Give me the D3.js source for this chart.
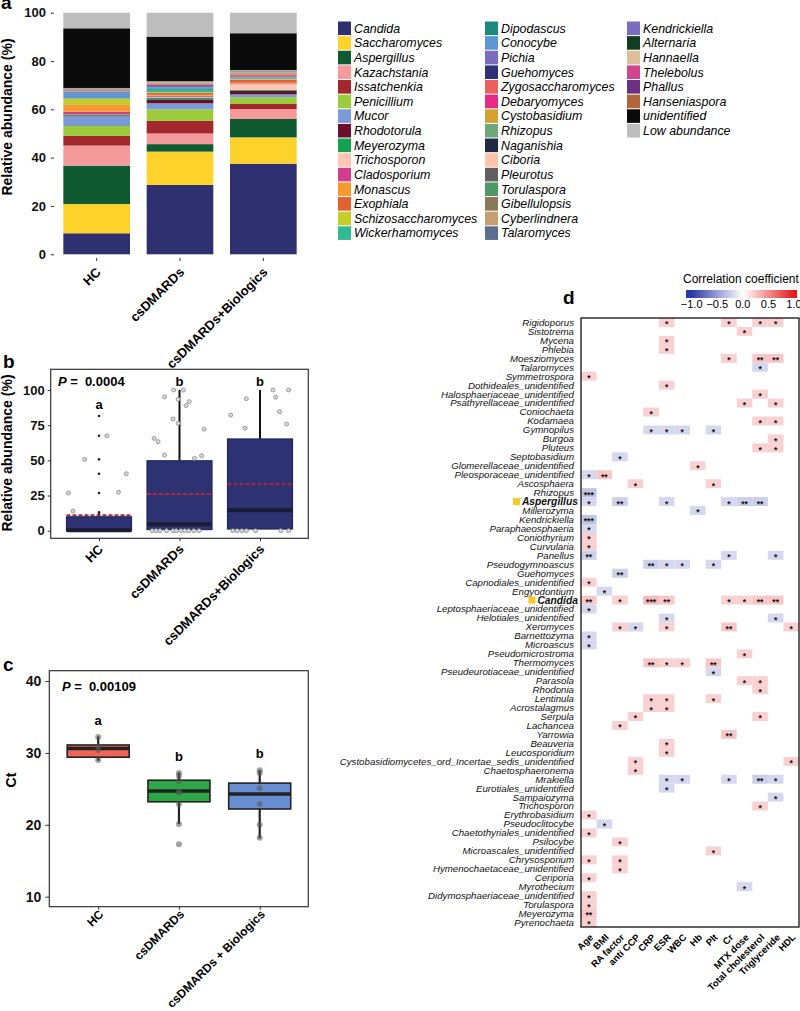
<!DOCTYPE html>
<html><head><meta charset="utf-8">
<script src="https://cdn.jsdelivr.net/npm/d3@7"></script>
<style>
body{margin:0;background:#fff}
svg text{font-family:"Liberation Sans",Arial,sans-serif}
</style></head><body>
<svg id="chart" width="800" height="1011"></svg>
<script>
// ---------- data ----------
const groupsA = ["HC", "csDMARDs", "csDMARDs+Biologics"];
const groupsC = ["HC", "csDMARDs", "csDMARDs + Biologics"];

const genera = ["Candida","Saccharomyces","Aspergillus","Kazachstania","Issatchenkia","Penicillium","Mucor","Rhodotorula","Meyerozyma","Trichosporon","Cladosporium","Monascus","Exophiala","Schizosaccharomyces","Wickerhamomyces",
  "Dipodascus","Conocybe","Pichia","Guehomyces","Zygosaccharomyces","Debaryomyces","Cystobasidium","Rhizopus","Naganishia","Ciboria","Pleurotus","Torulaspora","Gibellulopsis","Cyberlindnera","Talaromyces",
  "Kendrickiella","Alternaria","Hannaella","Thelebolus","Phallus","Hanseniaspora","unidentified","Low abundance"];
const generaColors = ["#2e3070","#fdd22a","#0f5a30","#f49a9a","#a3282e","#9ccc3c","#7b9bd6","#6b0f2c","#14a050","#fbc6b4","#d23c8c","#f59a2e","#e0622e","#c6cc28","#33b894",
  "#1a8a80","#5f97d4","#7a6bbd","#30307a","#ec5f5f","#e82a86","#d4a02e","#6ea87a","#1e2a44","#fcc4a8","#606060","#4f9a64","#8a7a5a","#c4a070","#5a6f8f",
  "#7d6bbf","#123d22","#dcc09a","#d2448c","#6b3080","#b0653a","#0a0a0a","#bdbdbd"];
const abundHC  = [8.7,12.1,15.9,8.3,4.0,4.1,4.1,0.3,0.4,0.1,1.0,2.8,0.2,2.4,0.1, 0.1,2.2,0.3,0.1,0.1,0.1,0.1,0.1,0.1,0.1,0.3,0.1,0.1,0.1,0.1, 0.1,0.05,0.05,0.05,0.05,0.05,24.7,6.45];
const abundCs  = [28.7,13.8,3.1,4.4,5.2,4.8,2.5,1.6,0.8,0.3,0.5,0.3,0.8,0.3,1.0, 0.6,0.5,0.5,0.3,0.4,0.2,0.2,0.1,0.1,0.2,0.1,0.1,0.1,0.05,0.05, 0.05,0.05,0,0,0,0,18.4,9.9];
const abundBio = [37.5,10.9,7.6,4.1,2.1,2.8,1.2,1.5,0.4,2.3,0.3,0.3,1.3,0.2,0.2, 0.2,0.3,0.3,0.2,0.6,0.2,0.2,0.2,0.1,0.3,0.3,0.1,0.2,0.1,0.1, 0.05,0.05,0.05,0,0,0.05,15.2,8.5];

// panel b: relative abundance of Candida
const bQ1 = [0, 0.8, 1.2];
const bMed = [0.4, 4.5, 14.5];
const bQ3 = [9.9, 49.7, 65.2];
const bMean = [11.1, 26.1, 33.0];
const bHi = [13, 100, 100];
const bOutHC = [13, 26.8, 40.5, 50.7, 67.5, 81.5];
// [group, value, jitter (fraction of box width)]
const bPoints = [
  [0,26.8,-0.47],[0,14,-0.4],[0,50.7,-0.22],[0,67.5,0.12],[0,27.3,0.3],[0,40.5,0.42],
  [1,65.6,-0.39],[1,63.3,-0.33],[1,53.8,-0.23],[1,95.2,-0.23],[1,79.4,-0.1],[1,100,-0.09],[1,93.4,-0.02],[1,76.3,-0.02],[1,100,0.06],[1,88.9,0.1],[1,91.7,0.15],[1,51.4,0.23],[1,53.3,0.34],[1,72.1,0.38],
  [1,0,-0.42],[1,0,-0.36],[1,0,-0.3],[1,0,-0.2],[1,0,-0.1],[1,0,-0.05],[1,0,0.02],[1,0,0.08],[1,0,0.14],[1,0,0.22],[1,0,0.3],
  [2,82.2,-0.45],[2,72.8,-0.23],[2,93.8,-0.21],[2,100,0.2],[2,94.8,0.24],[2,84.6,0.3],[2,75.8,0.41],[2,100,0.44],
  [2,0,-0.42],[2,0,-0.35],[2,0,-0.28],[2,0,-0.21],[2,0,-0.07],[2,0,0.32],[2,0,0.44]
];

// panel c: Ct values
const cQ1 = [29.4, 23.2, 22.2];
const cMed = [30.6, 24.7, 24.3];
const cQ3 = [31.1, 26.2, 25.8];
const cLo = [28.9, 20.1, 18.1];
const cHi = [32.3, 27.3, 27.6];
const cFill = ["#f0645a", "#2ea846", "#6a8ed2"];
const cPoints = [[0,32.2],[0,30.9],[0,29.0],[0,30.4],
  [1,27.2],[1,26.8],[1,26.1],[1,24.6],[1,24.5],[1,22.9],[1,20.1],[1,17.3],
  [2,27.6],[2,27.2],[2,25.1],[2,22.9],[2,20.0],[2,18.2]];

// panel d: correlation heatmap
const rowNames = ["Rigidoporus","Sistotrema","Mycena","Phlebia","Moesziomyces","Talaromyces","Symmetrospora","Dothideales_unidentified","Halosphaeriaceae_unidentified","Psathyrellaceae_unidentified","Coniochaeta","Kodamaea","Gymnopilus","Burgoa","Pluteus","Septobasidium","Glomerellaceae_unidentified","Pleosporaceae_unidentified","Ascosphaera","Rhizopus","Aspergillus","Millerozyma","Kendrickiella","Paraphaeosphaeria","Coniothyrium","Curvularia","Panellus","Pseudogymnoascus","Guehomyces","Capnodiales_unidentified","Engyodontium","Candida","Leptosphaeriaceae_unidentified","Helotiales_unidentified","Xeromyces","Barnettozyma","Microascus","Pseudomicrostroma","Thermomyces","Pseudeurotiaceae_unidentified","Parasola","Rhodonia","Lentinula","Acrostalagmus","Serpula","Lachancea","Yarrowia","Beauveria","Leucosporidium","Cystobasidiomycetes_ord_Incertae_sedis_unidentified","Chaetosphaeronema","Mrakiella","Eurotiales_unidentified","Sampaiozyma","Trichosporon","Erythrobasidium","Pseudoclitocybe","Chaetothyriales_unidentified","Psilocybe","Microascales_unidentified","Chrysosporium","Hymenochaetaceae_unidentified","Ceriporia","Myrothecium","Didymosphaeriaceae_unidentified","Torulaspora","Meyerozyma","Pyrenochaeta"];
const colNames = ["Age","BMI","RA factor","anti CCP","CRP","ESR","WBC","Hb","Plt","Cr","MTX dose","Total cholesterol","Triglyceride","HDL"];
const highlighted = ["Aspergillus", "Candida"];
const cells = [
  ["Rigidoporus","ESR",0.2,"*"],["Rigidoporus","Cr",0.2,"*"],["Rigidoporus","Total cholesterol",0.2,"*"],["Rigidoporus","Triglyceride",0.2,"*"],
  ["Sistotrema","MTX dose",0.2,"*"],["Mycena","ESR",0.2,"*"],["Phlebia","ESR",0.2,"*"],
  ["Moesziomyces","Cr",0.2,"*"],["Moesziomyces","Total cholesterol",0.24,"**"],["Moesziomyces","Triglyceride",0.24,"**"],
  ["Talaromyces","Total cholesterol",-0.2,"*"],["Symmetrospora","Age",0.2,"*"],["Dothideales_unidentified","ESR",0.2,"*"],
  ["Halosphaeriaceae_unidentified","Total cholesterol",0.2,"*"],
  ["Psathyrellaceae_unidentified","MTX dose",0.2,"*"],["Psathyrellaceae_unidentified","Triglyceride",0.2,"*"],
  ["Coniochaeta","CRP",0.2,"*"],["Kodamaea","Total cholesterol",0.2,"*"],["Kodamaea","Triglyceride",0.2,"*"],
  ["Gymnopilus","CRP",-0.2,"*"],["Gymnopilus","ESR",-0.2,"*"],["Gymnopilus","WBC",-0.2,"*"],["Gymnopilus","Plt",-0.2,"*"],
  ["Burgoa","Triglyceride",0.2,"*"],["Pluteus","Total cholesterol",0.2,"*"],["Pluteus","Triglyceride",0.2,"*"],
  ["Septobasidium","RA factor",-0.2,"*"],["Glomerellaceae_unidentified","Hb",0.2,"*"],
  ["Pleosporaceae_unidentified","Age",-0.2,"*"],["Pleosporaceae_unidentified","BMI",0.24,"**"],
  ["Ascosphaera","anti CCP",0.2,"*"],["Ascosphaera","Plt",0.2,"*"],["Rhizopus","Age",-0.3,"***"],
  ["Aspergillus","Age",-0.2,"*"],["Aspergillus","RA factor",-0.24,"**"],["Aspergillus","ESR",-0.2,"*"],["Aspergillus","Cr",-0.2,"*"],["Aspergillus","MTX dose",-0.24,"**"],["Aspergillus","Total cholesterol",-0.24,"**"],
  ["Millerozyma","Hb",-0.2,"*"],["Kendrickiella","Age",-0.3,"***"],["Paraphaeosphaeria","Age",-0.2,"*"],
  ["Coniothyrium","Age",0.2,"*"],["Curvularia","Age",0.2,"*"],
  ["Panellus","Age",-0.24,"**"],["Panellus","Cr",-0.2,"*"],["Panellus","Triglyceride",-0.2,"*"],
  ["Pseudogymnoascus","CRP",-0.24,"**"],["Pseudogymnoascus","ESR",-0.2,"*"],["Pseudogymnoascus","WBC",-0.2,"*"],["Pseudogymnoascus","Plt",-0.2,"*"],
  ["Guehomyces","RA factor",-0.24,"**"],["Capnodiales_unidentified","Age",0.2,"*"],["Engyodontium","BMI",-0.2,"*"],
  ["Candida","Age",0.24,"**"],["Candida","RA factor",0.2,"*"],["Candida","CRP",0.3,"***"],["Candida","ESR",0.24,"**"],["Candida","Cr",0.2,"*"],["Candida","MTX dose",0.2,"*"],["Candida","Total cholesterol",0.24,"**"],["Candida","Triglyceride",0.24,"**"],
  ["Leptosphaeriaceae_unidentified","Age",-0.2,"*"],
  ["Helotiales_unidentified","ESR",-0.2,"*"],["Helotiales_unidentified","Triglyceride",-0.2,"*"],
  ["Xeromyces","RA factor",0.2,"*"],["Xeromyces","anti CCP",-0.2,"*"],["Xeromyces","ESR",0.2,"*"],["Xeromyces","Cr",0.24,"**"],["Xeromyces","HDL",0.2,"*"],
  ["Barnettozyma","Age",-0.2,"*"],["Microascus","Age",-0.2,"*"],["Pseudomicrostroma","MTX dose",0.2,"*"],
  ["Thermomyces","CRP",0.24,"**"],["Thermomyces","ESR",0.2,"*"],["Thermomyces","WBC",0.2,"*"],["Thermomyces","Plt",0.24,"**"],
  ["Pseudeurotiaceae_unidentified","Plt",-0.2,"*"],
  ["Parasola","MTX dose",0.2,"*"],["Parasola","Total cholesterol",0.2,"*"],["Rhodonia","Total cholesterol",0.2,"*"],
  ["Lentinula","CRP",0.2,"*"],["Lentinula","ESR",0.2,"*"],["Lentinula","Plt",0.2,"*"],
  ["Acrostalagmus","CRP",0.2,"*"],["Acrostalagmus","ESR",0.2,"*"],
  ["Serpula","anti CCP",0.2,"*"],["Serpula","Total cholesterol",0.2,"*"],
  ["Lachancea","RA factor",0.2,"*"],["Yarrowia","Cr",0.24,"**"],["Beauveria","ESR",0.2,"*"],["Leucosporidium","ESR",0.2,"*"],
  ["Cystobasidiomycetes_ord_Incertae_sedis_unidentified","anti CCP",0.2,"*"],["Cystobasidiomycetes_ord_Incertae_sedis_unidentified","HDL",0.2,"*"],
  ["Chaetosphaeronema","anti CCP",0.2,"*"],
  ["Mrakiella","ESR",-0.2,"*"],["Mrakiella","WBC",-0.2,"*"],["Mrakiella","Cr",-0.2,"*"],["Mrakiella","Total cholesterol",-0.24,"**"],["Mrakiella","Triglyceride",-0.2,"*"],
  ["Eurotiales_unidentified","ESR",-0.2,"*"],["Sampaiozyma","Triglyceride",-0.2,"*"],["Trichosporon","Total cholesterol",0.2,"*"],
  ["Erythrobasidium","Age",0.2,"*"],["Pseudoclitocybe","BMI",-0.2,"*"],["Chaetothyriales_unidentified","Age",0.2,"*"],
  ["Psilocybe","RA factor",0.2,"*"],["Microascales_unidentified","Plt",0.2,"*"],
  ["Chrysosporium","Age",0.2,"*"],["Chrysosporium","RA factor",0.2,"*"],["Hymenochaetaceae_unidentified","RA factor",0.2,"*"],
  ["Ceriporia","Age",0.2,"*"],["Myrothecium","MTX dose",-0.2,"*"],["Didymosphaeriaceae_unidentified","Age",0.2,"*"],
  ["Torulaspora","Age",0.2,"*"],["Meyerozyma","Age",0.24,"**"],["Pyrenochaeta","Age",0.2,"*"]
];
const corrTicks = [-1, -0.5, 0, 0.5, 1];

// ---------- drawing ----------
const svg = d3.select("#chart");
const FONT = "'Liberation Sans', Arial, sans-serif";

function styleAxis(sel, size) {
  sel.select(".domain").remove();
  sel.selectAll(".tick line").attr("stroke", "#333");
  sel.selectAll("text").attr("font-size", size).attr("font-weight", "bold")
    .attr("fill", "#111").attr("font-family", FONT);
}

function panelLabel(txt, x, y) {
  svg.append("text").attr("x", x).attr("y", y).attr("font-size", 19)
    .attr("font-weight", "bold").text(txt);
}

function yTitle(txt, x, y) {
  svg.append("text").attr("transform", `translate(${x},${y}) rotate(-90)`)
    .attr("text-anchor", "middle").attr("font-size", 14).attr("font-weight", "bold").text(txt);
}

function xLabels(names, xs, y, size, dx) {
  svg.append("g").selectAll("text").data(names).join("text")
    .attr("transform", (d, i) => `translate(${xs(i) + dx},${y}) rotate(-45)`)
    .attr("text-anchor", "end").attr("font-size", size).attr("font-weight", "bold").text(d => d);
}

function pLabel(txt, x, y) {
  const t = svg.append("text").attr("x", x).attr("y", y).attr("font-size", 13).attr("font-weight", "bold");
  t.append("tspan").attr("font-style", "italic").text("P");
  t.append("tspan").text(" =");
  t.append("tspan").attr("dx", 7).text(txt);
}

// ---- panel a: stacked bars
const ya = d3.scaleLinear().domain([0, 100]).range([254.3, 12.7]);
const xa = d3.scaleBand().domain(groupsA).range([55, 305]).paddingInner(0.2).paddingOuter(0.1);
const abund = [abundHC, abundCs, abundBio];
const table = groupsA.map((g, gi) => {
  const o = { group: g };
  genera.forEach((n, i) => o[n] = abund[gi][i]);
  return o;
});
const color = d3.scaleOrdinal().domain(genera).range(generaColors);
const stacked = d3.stack().keys(genera)(table);

svg.append("g").selectAll("g").data(stacked).join("g")
  .attr("fill", d => color(d.key))
  .selectAll("rect").data(d => d).join("rect")
  .attr("x", d => xa(d.data.group))
  .attr("width", xa.bandwidth())
  .attr("y", d => ya(d[1]))
  .attr("height", d => Math.max(0, ya(d[0]) - ya(d[1])));

styleAxis(svg.append("g").attr("transform", "translate(54,0)")
  .call(d3.axisLeft(ya).tickValues([0, 20, 40, 60, 80, 100]).tickSize(3).tickPadding(5)), 13);
const axA = svg.append("g").attr("transform", "translate(0,258)")
  .call(d3.axisBottom(xa).tickSize(3).tickFormat(""));
axA.select(".domain").remove();
axA.selectAll(".tick line").attr("stroke", "#333");
xLabels(groupsA, i => xa(groupsA[i]) + xa.bandwidth() / 2, 273, 13, 5);
yTitle("Relative abundance (%)", 12, 117);
panelLabel("a", 1, 9);

// legend
const legRows = 15, legX = [338, 485, 627], legY0 = 28.3, legDy = 14.63;
const leg = svg.append("g").selectAll("g").data(genera).join("g")
  .attr("transform", (d, i) => `translate(${legX[Math.floor(i / legRows)]},${legY0 + (i % legRows) * legDy})`);
leg.append("rect").attr("x", 0).attr("y", -6.8).attr("width", 13).attr("height", 13.6).attr("fill", d => color(d));
leg.append("text").attr("x", 16).attr("dy", "0.35em").attr("font-size", 12.4)
  .attr("font-style", "italic").text(d => d);

// ---- panel b: boxplot of Candida abundance
const yb = d3.scaleLinear().domain([0, 100]).range([530.7, 390]);
const xb = d3.scalePoint().domain(groupsA).range([99, 260]);
const bw = 65;
svg.append("rect").attr("x", 50.7).attr("y", 369.3).attr("width", 257.6).attr("height", 169)
  .attr("fill", "none").attr("stroke", "#333").attr("stroke-width", 1.2);
styleAxis(svg.append("g").attr("transform", "translate(50.7,0)")
  .call(d3.axisLeft(yb).tickValues([0, 25, 50, 75, 100]).tickSize(3).tickPadding(3)), 13);
const axB = svg.append("g").attr("transform", "translate(0,538.3)")
  .call(d3.axisBottom(xb).tickSize(3).tickFormat(""));
axB.select(".domain").remove();
axB.selectAll(".tick line").attr("stroke", "#333");

const gb = svg.append("g");
groupsA.forEach((g, i) => {
  const cx = xb(g);
  gb.append("line").attr("x1", cx).attr("x2", cx).attr("y1", yb(bQ3[i])).attr("y2", yb(bHi[i]))
    .attr("stroke", "#111").attr("stroke-width", 2);
  gb.append("rect").attr("x", cx - bw / 2).attr("width", bw)
    .attr("y", yb(bQ3[i])).attr("height", yb(bQ1[i]) - yb(bQ3[i]))
    .attr("fill", "#2d3273").attr("stroke", "#23285e").attr("stroke-width", 1.2);
  gb.append("line").attr("x1", cx - bw / 2).attr("x2", cx + bw / 2).attr("y1", yb(bMed[i])).attr("y2", yb(bMed[i]))
    .attr("stroke", "#1b1b33").attr("stroke-width", 4);
  gb.append("line").attr("x1", cx - bw / 2).attr("x2", cx + bw / 2).attr("y1", yb(bMean[i])).attr("y2", yb(bMean[i]))
    .attr("stroke", "#b0263a").attr("stroke-width", 1.8).attr("stroke-dasharray", "4,2");
});
gb.selectAll("circle.out").data(bOutHC).join("circle").attr("class", "out")
  .attr("cx", xb("HC")).attr("cy", d => yb(d)).attr("r", 1.3).attr("fill", "#222");
gb.selectAll("circle.pt").data(bPoints).join("circle").attr("class", "pt")
  .attr("cx", d => xb(groupsA[d[0]]) + d[2] * bw).attr("cy", d => yb(d[1])).attr("r", 2)
  .attr("fill", "#d8d8d8").attr("stroke", "#8a8a8a").attr("stroke-width", 0.8);
xLabels(groupsA, i => xb(groupsA[i]), 550, 13, 5);
yTitle("Relative abundance (%)", 12, 453);
panelLabel("b", 3, 368);
pLabel("0.0004", 58, 386);
svg.append("g").selectAll("text").data(["a", "b", "b"]).join("text")
  .attr("x", (d, i) => xb(groupsA[i])).attr("y", (d, i) => i === 0 ? 409 : 386)
  .attr("text-anchor", "middle").attr("font-size", 13).attr("font-weight", "bold").text(d => d);

// ---- panel c: Ct boxplot
const yc = d3.scaleLinear().domain([10, 40]).range([896.7, 681]);
const xc = d3.scalePoint().domain(groupsC).range([98.2, 259.7]);
const cw = 62;
svg.append("rect").attr("x", 49.3).attr("y", 670.7).attr("width", 259).attr("height", 236)
  .attr("fill", "none").attr("stroke", "#333").attr("stroke-width", 1.2);
styleAxis(svg.append("g").attr("transform", "translate(49.3,0)")
  .call(d3.axisLeft(yc).tickValues([10, 20, 30, 40]).tickSize(4).tickPadding(4)), 14);
const axC = svg.append("g").attr("transform", "translate(0,906.7)")
  .call(d3.axisBottom(xc).tickSize(3).tickFormat(""));
axC.select(".domain").remove();
axC.selectAll(".tick line").attr("stroke", "#333");

const gc = svg.append("g");
groupsC.forEach((g, i) => {
  const cx = xc(g);
  gc.append("line").attr("x1", cx).attr("x2", cx).attr("y1", yc(cLo[i])).attr("y2", yc(cHi[i]))
    .attr("stroke", "#222").attr("stroke-width", 2.2);
  gc.append("rect").attr("x", cx - cw / 2).attr("width", cw)
    .attr("y", yc(cQ3[i])).attr("height", yc(cQ1[i]) - yc(cQ3[i]))
    .attr("fill", cFill[i]).attr("stroke", "#222").attr("stroke-width", 1.6);
  gc.append("line").attr("x1", cx - cw / 2).attr("x2", cx + cw / 2).attr("y1", yc(cMed[i])).attr("y2", yc(cMed[i]))
    .attr("stroke", "#222").attr("stroke-width", 3.5);
});
gc.selectAll("circle").data(cPoints).join("circle")
  .attr("cx", d => xc(groupsC[d[0]])).attr("cy", d => yc(d[1])).attr("r", 3)
  .attr("fill", "#555").attr("fill-opacity", 0.55);
xLabels(groupsC, i => xc(groupsC[i]), 915, 12, 6);
yTitle("Ct", 16, 780);
panelLabel("c", 3, 671);
pLabel("0.00109", 62, 691);
svg.append("g").selectAll("text").data(["a", "b", "b"]).join("text")
  .attr("x", (d, i) => xc(groupsC[i])).attr("y", (d, i) => [725, 761, 758][i])
  .attr("text-anchor", "middle").attr("font-size", 13).attr("font-weight", "bold").text(d => d);

// ---- panel d: correlation heatmap
const xd = d3.scaleBand().domain(colNames).range([581, 799]);
const yd = d3.scaleBand().domain(rowNames).range([318, 927]);
const corrColor = d3.scaleLinear().domain([-1, 0, 1]).range(["#2c3aa8", "#ffffff", "#e31a1c"]);

const gd = svg.append("g");
gd.selectAll("rect.cell").data(cells).join("rect").attr("class", "cell")
  .attr("x", d => xd(d[1])).attr("y", d => yd(d[0]))
  .attr("width", xd.bandwidth()).attr("height", yd.bandwidth())
  .attr("fill", d => corrColor(d[2]));
gd.selectAll("text.sig").data(cells).join("text").attr("class", "sig")
  .attr("x", d => xd(d[1]) + xd.bandwidth() / 2).attr("y", d => yd(d[0]) + yd.bandwidth() / 2)
  .attr("dy", "0.58em").attr("text-anchor", "middle").attr("font-size", 8.5).attr("font-weight", "bold")
  .attr("fill", "#111").text(d => d[3]);
gd.append("rect").attr("x", 581).attr("y", 318).attr("width", 218).attr("height", 609)
  .attr("fill", "none").attr("stroke", "#111").attr("stroke-width", 1.3);

// row labels
const rowLab = gd.append("g").selectAll("text").data(rowNames).join("text")
  .attr("x", d => highlighted.includes(d) ? 578 : 574)
  .attr("y", d => yd(d) + yd.bandwidth() / 2).attr("dy", "0.35em")
  .attr("text-anchor", "end").attr("font-size", d => highlighted.includes(d) ? 10.3 : 9.7)
  .attr("font-style", "italic").attr("font-weight", d => highlighted.includes(d) ? "bold" : "normal")
  .attr("fill", "#111").text(d => d);
rowLab.filter(d => highlighted.includes(d)).each(function (d) {
  const w = this.getComputedTextLength();
  gd.append("rect").attr("x", 578 - w - 9).attr("y", yd(d) + yd.bandwidth() / 2 - 3.5)
    .attr("width", 7).attr("height", 7).attr("fill", "#f7c629");
});

// column labels
gd.append("g").selectAll("text").data(colNames).join("text")
  .attr("transform", d => `translate(${xd(d) + xd.bandwidth() / 2 + 5},${938}) rotate(-45)`)
  .attr("text-anchor", "end").attr("font-size", 9.5).attr("font-weight", "bold").text(d => d);

panelLabel("d", 563, 304);

// colour bar
const cb = d3.scaleLinear().domain([-1, 1]).range([691.7, 794]);
const defs = svg.append("defs");
const grad = defs.append("linearGradient").attr("id", "corrGrad")
  .attr("gradientUnits", "userSpaceOnUse").attr("x1", cb(-1)).attr("x2", cb(1)).attr("y1", 0).attr("y2", 0);
d3.range(-1, 1.001, 0.25).forEach(v => {
  grad.append("stop").attr("offset", (v + 1) / 2).attr("stop-color", corrColor(v));
});
svg.append("rect").attr("x", 686).attr("y", 290).attr("width", 111).attr("height", 8).attr("fill", "url(#corrGrad)");
svg.append("g").selectAll("text").data(corrTicks).join("text")
  .attr("x", d => cb(d)).attr("y", 308).attr("text-anchor", "middle").attr("font-size", 11)
  .text(d => d3.format(".1f")(d).replace("-", "\u2212"));
svg.append("text").attr("x", 683).attr("y", 283).attr("font-size", 12).text("Correlation coefficient");
</script></body></html>
